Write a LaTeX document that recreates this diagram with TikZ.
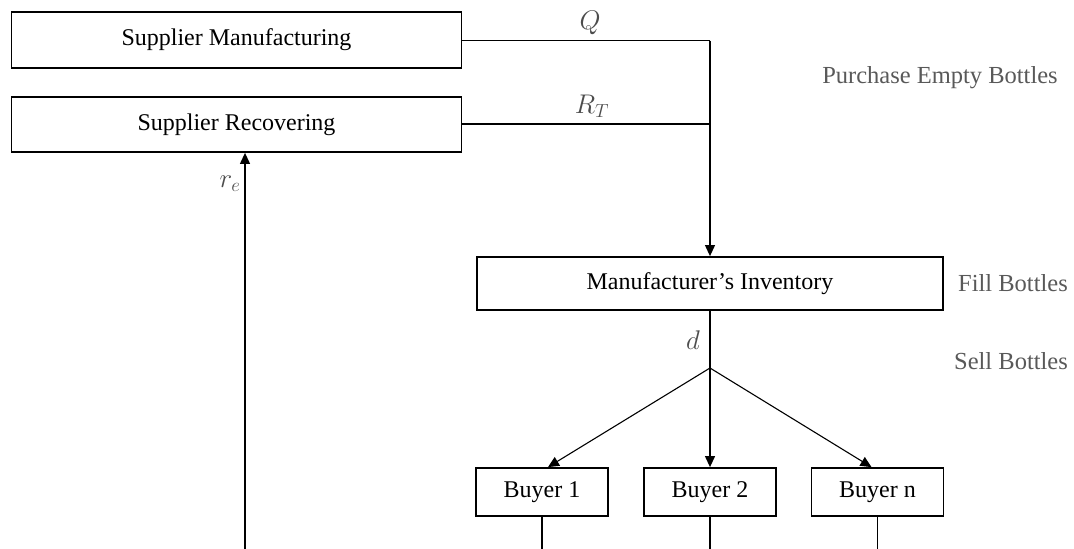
\RequirePackage{fix-cm}
\documentclass[tikz,border=0pt]{standalone}
\usepackage{fontspec}
\setmainfont{Liberation Serif}
\usetikzlibrary{arrows.meta,calc}
\begin{document}
\begin{tikzpicture}[x=1pt,y=-1pt,
 box/.style={draw,line width=1.8pt,inner sep=0pt,font=\fontsize{24}{28}\selectfont},
 flow/.style={line width=1.1pt},
 arr/.style={flow,-{Triangle[width=10pt,length=11pt]}},
 note/.style={text=black!65,font=\fontsize{24.5}{28}\selectfont},
 lab/.style={text=black!70,font=\fontsize{27}{30}\selectfont}]
\useasboundingbox (0,0) rectangle (1074,549);
\node[box,minimum width=450pt,minimum height=56pt] (sm) at (236.5,40) {Supplier Manufacturing};
\node[box,minimum width=450pt,minimum height=55pt] (sr) at (236.5,124.5) {Supplier Recovering};
\node[box,minimum width=466pt,minimum height=53pt] (mi) at (710,283.5) {Manufacturer’s Inventory};
\node[box,minimum width=132pt,minimum height=48pt] (b1) at (542,492) {Buyer 1};
\node[box,minimum width=132pt,minimum height=48pt] (b2) at (710,492) {Buyer 2};
\node[box,minimum width=132pt,minimum height=48pt] (bn) at (877.5,492) {Buyer n};
\coordinate (c1) at (710,40.5);
\coordinate (c2) at (710,124);
\coordinate (j) at (710,368);
\coordinate (bot) at (0,549);
\coordinate (rb) at (245,549);
\draw[flow] (sm.east |- c1) -- (c1);
\draw[flow] (sr.east |- c2) -- (c2);
\draw[arr] (c1) -- (mi.north);
\draw[flow] (mi.south) -- (j);
\draw[arr] (j) -- ($(b1.north)+(6,0)$);
\draw[arr] (j) -- (b2.north);
\draw[arr] (j) -- ($(bn.north)+(-6,0)$);
\draw[flow] (b1.south) -- (b1.south |- bot);
\draw[flow] (b2.south) -- (b2.south |- bot);
\draw[flow] (bn.south) -- (bn.south |- bot);
\draw[arr] (rb) -- (rb |- sr.south);
\node[lab] (q) at (590,23) {$Q$};
\node[lab] (rt) at (592,106) {$R_T$};
\node[lab] (re) at (230,184) {$r_e$};
\node[lab] (d) at (693,340) {$d$};
\node[note] (pe) at (940,78) {Purchase Empty Bottles};
\node[note] (fb) at (1013,283) {Fill Bottles};
\node[note] (sb) at (1011,361) {Sell Bottles};
\end{tikzpicture}
\end{document}
